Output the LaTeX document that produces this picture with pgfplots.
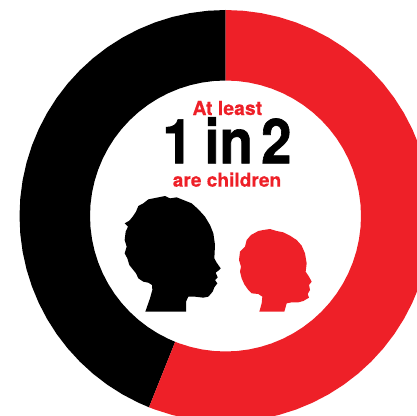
\documentclass[border=0pt]{standalone}
\usepackage{fontspec}
\setmainfont{TeX Gyre Heros}
\newfontfamily\heavyfont[FakeBold=1,FakeStretch=0.88]{TeX Gyre Heros Bold}
\newfontfamily\redfont[FakeBold=0.3]{TeX Gyre Heros Bold}
\usepackage{pgfplots}
\pgfplotsset{compat=1.18}
\usepgfplotslibrary{polar}
\definecolor{ringred}{HTML}{EE2028}

\begin{document}
\begin{tikzpicture}
% ring, polar data around the centre of the donut: red 56%, black 44%
\begin{axis}[
    at={(0,0)}, anchor=south west,
    width=417bp, height=416bp, scale only axis,
    xmin=-225.5, xmax=191.5, ymin=-200, ymax=216,
    hide axis, clip=true,
]
    \addplot[fill=black, draw=none, data cs=polar] coordinates {
        (90,206) (95,206) (100,206) (105,206) (110,206) (115,206) (120,206) (125,206)
        (130,206) (135,206) (140,206) (145,206) (150,206) (155,206) (160,206) (165,206)
        (170,206) (175,206) (180,206) (185,206) (190,206) (195,206) (200,206) (205,206)
        (210,206) (215,206) (220,206) (225,206) (230,206) (235,206) (240,206) (245,206) (248.2,206)
        (248.2,135.5) (245,135.5) (240,135.5) (235,135.5) (230,135.5) (225,135.5) (220,135.5)
        (215,135.5) (210,135.5) (205,135.5) (200,135.5) (195,135.5) (190,135.5) (185,135.5)
        (180,135.5) (175,135.5) (170,135.5) (165,135.5) (160,135.5) (155,135.5) (150,135.5)
        (145,135.5) (140,135.5) (135,135.5) (130,135.5) (125,135.5) (120,135.5) (115,135.5)
        (110,135.5) (105,135.5) (100,135.5) (95,135.5) (90,135.5)
    };
    \addplot[fill=ringred, draw=none, data cs=polar] coordinates {
        (90,206) (85,206) (80,206) (75,206) (70,206) (65,206) (60,206) (55,206) (50,206)
        (45,206) (40,206) (35,206) (30,206) (25,206) (20,206) (15,206) (10,206) (5,206) (0,206)
        (-5,206) (-10,206) (-15,206) (-20,206) (-25,206) (-30,206) (-35,206) (-40,206) (-45,206)
        (-50,206) (-55,206) (-60,206) (-65,206) (-70,206) (-75,206) (-80,206) (-85,206) (-90,206)
        (-95,206) (-100,206) (-105,206) (-110,206) (-111.8,206)
        (-111.8,135.5) (-110,135.5) (-105,135.5) (-100,135.5) (-95,135.5) (-90,135.5) (-85,135.5)
        (-80,135.5) (-75,135.5) (-70,135.5) (-65,135.5) (-60,135.5) (-55,135.5) (-50,135.5)
        (-45,135.5) (-40,135.5) (-35,135.5) (-30,135.5) (-25,135.5) (-20,135.5) (-15,135.5)
        (-10,135.5) (-5,135.5) (0,135.5) (5,135.5) (10,135.5) (15,135.5) (20,135.5) (25,135.5)
        (30,135.5) (35,135.5) (40,135.5) (45,135.5) (50,135.5) (55,135.5) (60,135.5) (65,135.5)
        (70,135.5) (75,135.5) (80,135.5) (85,135.5) (90,135.5)
    };
\end{axis}
% heads and text, y downwards, units of 1/3 px
\begin{axis}[
    at={(0,0)}, anchor=south west,
    width=417bp, height=416bp, scale only axis,
    xmin=-330, xmax=921, ymin=-270, ymax=978, y dir=reverse,
    hide axis, clip=true,
]
    \addplot[fill=black, draw=none] coordinates {
        (106,665) (120,625) (127,600) (126,585) (115,578) (100,575) (85,565) (78,550) (70,540)
        (58,525) (52,505) (44,490) (50,470) (44,450) (47,425) (54,410) (44,400) (58,392)
        (68,380) (78,365) (85,348) (100,340) (115,328) (130,325) (145,322) (165,318) (180,325)
        (200,322) (220,330) (245,340) (265,358) (285,380) (300,405) (310,430) (315,465)
        (313,505) (320,518) (332,535) (325,542) (317,548) (323,562) (315,570) (322,580)
        (313,592) (308,605) (295,620) (280,623) (255,620) (235,620) (228,635) (228,665)
    };
    \addplot[fill=ringred, draw=none] coordinates {
        (448,665) (455,640) (457,620) (445,612) (425,610) (415,600) (403,583) (395,565)
        (390,545) (393,530) (387,510) (390,485) (405,470) (410,450) (423,435) (445,423)
        (460,420) (480,417) (500,423) (520,427) (540,437) (560,450) (575,467) (585,490)
        (590,520) (587,545) (597,560) (605,575) (597,585) (600,600) (593,612) (597,623)
        (580,633) (565,637) (545,637) (530,640) (523,665)
    };
    \node[anchor=base, text=ringred, inner sep=0pt, font=\redfont\fontsize{19.4bp}{22bp}\selectfont]
        at (axis cs:352,75) {At least};
    \node[anchor=base, text=black, inner sep=0pt, font=\heavyfont\fontsize{62bp}{62bp}\selectfont]
        at (axis cs:351,220) {1\hspace{-3.5bp} in\hspace{-7bp} 2};
    \node[anchor=base, text=ringred, inner sep=0pt, font=\redfont\fontsize{19.1bp}{22bp}\selectfont]
        at (axis cs:351,290) {are children};
\end{axis}
\pgfresetboundingbox
\path (0,0) rectangle (417bp,416bp);
\end{tikzpicture}
\end{document}
